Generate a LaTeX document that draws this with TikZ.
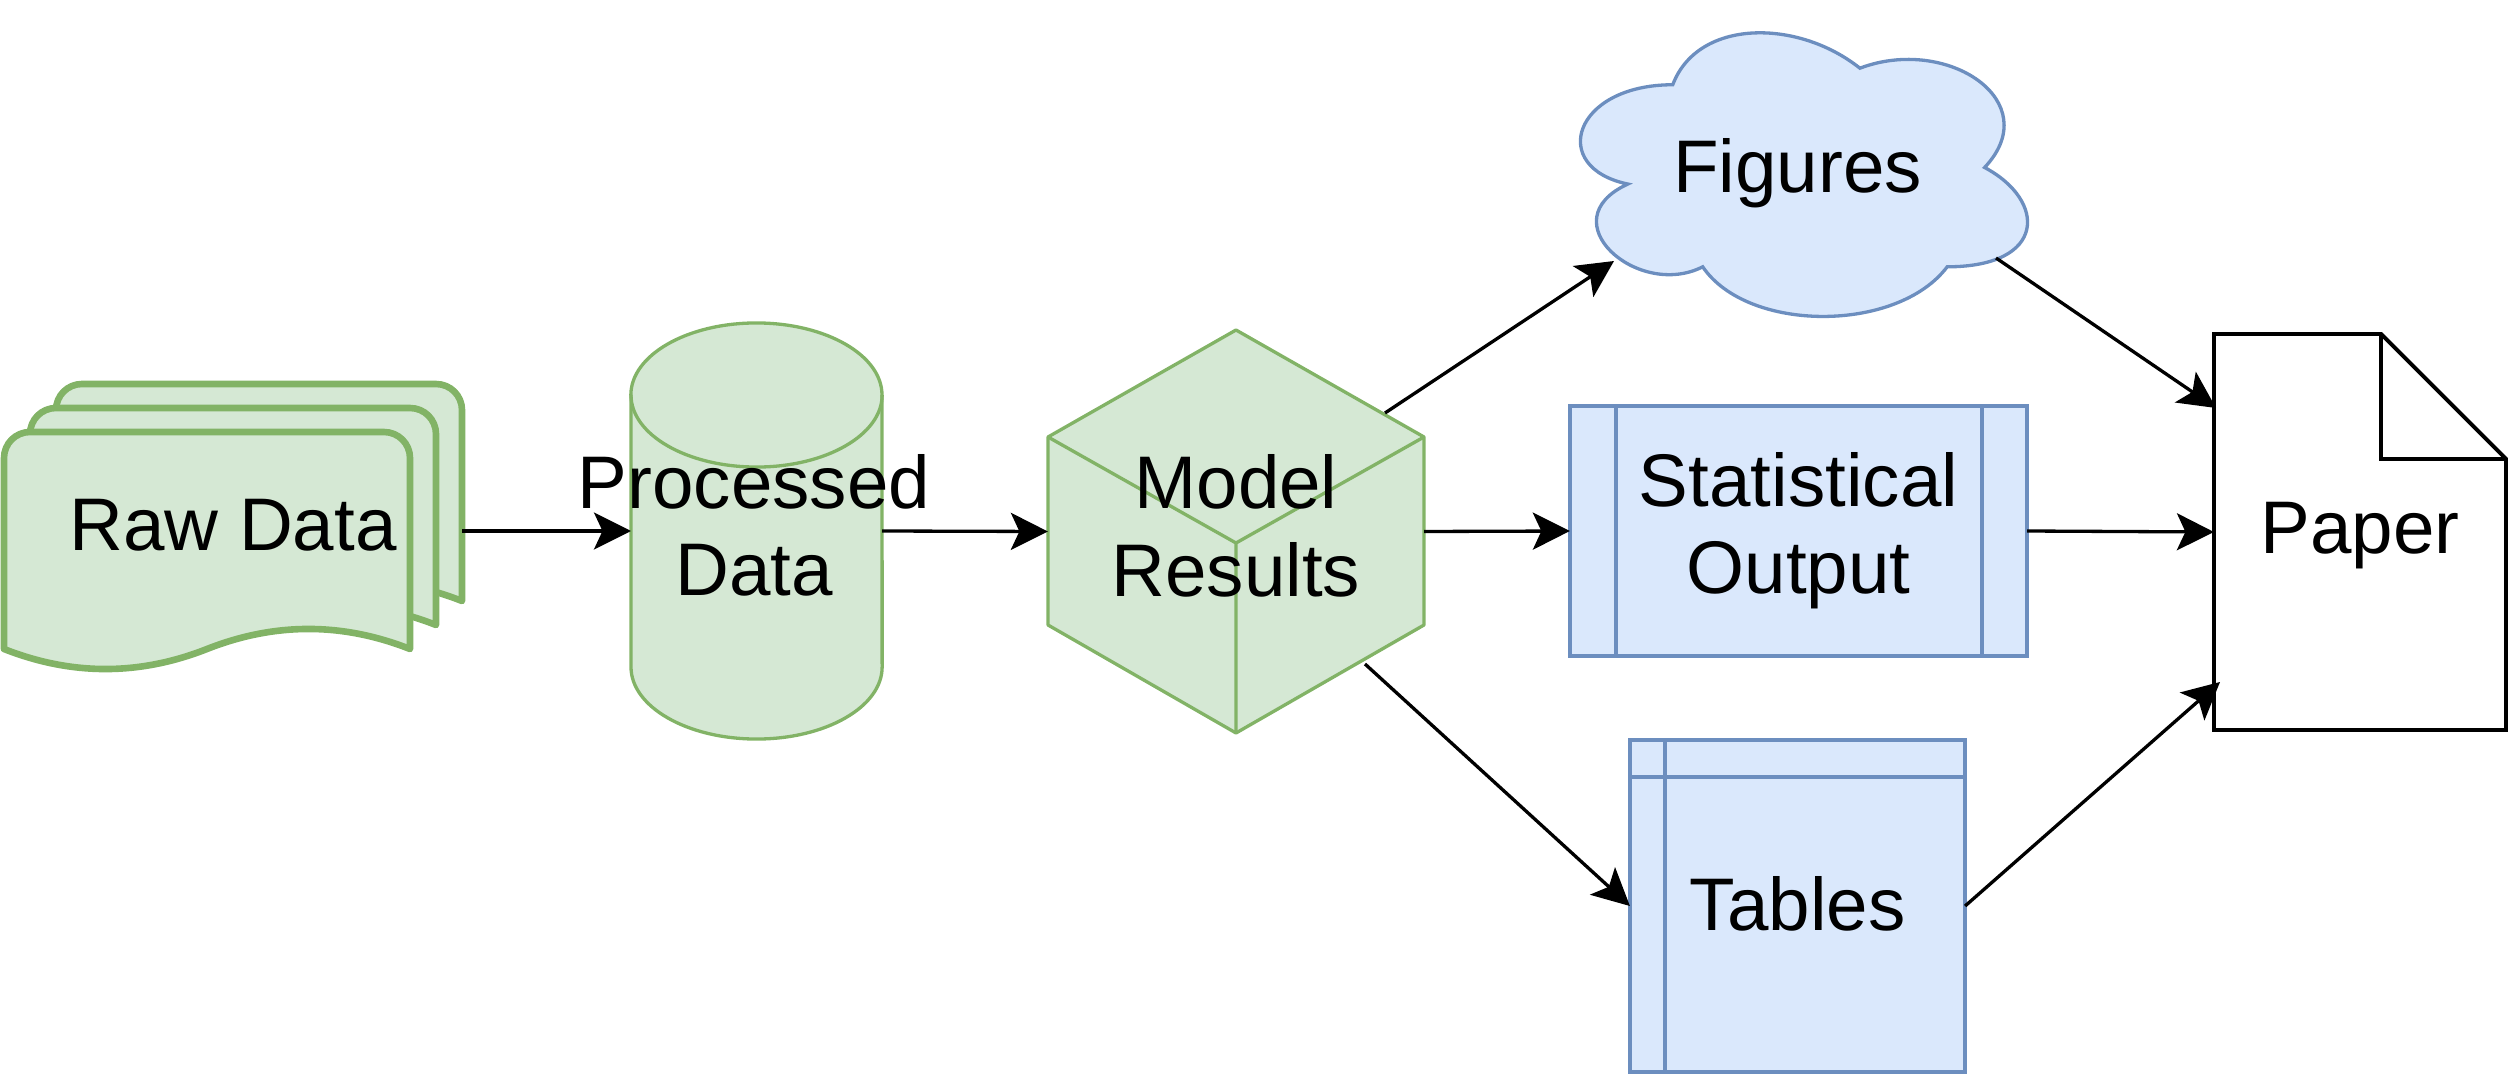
\documentclass[tikz,border=0pt]{standalone}
\usepackage{fontspec}
\setmainfont{Liberation Sans}
\usetikzlibrary{arrows.meta,calc}
\definecolor{gfill}{HTML}{D5E8D4}
\definecolor{gline}{HTML}{82B366}
\definecolor{bfill}{HTML}{DAE8FC}
\definecolor{bline}{HTML}{6C8EBF}
\begin{document}
\begin{tikzpicture}[x=0.01cm,y=-0.01cm,
  greenshape/.style={fill=gfill,draw=gline,line width=0.94pt,line join=round},
  rawsheet/.style={fill=gfill,draw=gline,line width=1.88pt,line join=round},
  blueshape/.style={fill=bfill,draw=bline,line width=0.94pt},
  papershape/.style={fill=white,draw=black,line width=1.1pt},
  conn/.style={draw=black,line width=0.94pt,-{Stealth[length=0.37cm,width=0.37cm,inset=0.085cm]}},
  box/.style={inner sep=0pt,outer sep=0pt,font=\fontsize{21.2pt}{24.75pt}\selectfont}
]
\useasboundingbox (0,0) rectangle (2508,1079);

% Raw Data (multiple documents)
\foreach \dx/\dy in {52/-48,26/-24,0/0}{
\begin{scope}[shift={(\dx,\dy)}]
\path[rawsheet] (4,649) -- (4,458) arc[start angle=180,end angle=90,radius=0.26cm] -- (384,432) arc[start angle=90,end angle=0,radius=0.26cm] -- (410,649) .. controls (342.3,622.3) and (274.7,622.3) .. (207,649) .. controls (139.3,675.7) and (71.7,675.7) .. (4,649) -- cycle;
\end{scope}}

% Processed Data (cylinder)
\path[greenshape] (631,395) -- (631,667) arc[start angle=180,end angle=360,x radius=1.255cm,y radius=0.72cm] -- (882,395) arc[start angle=0,end angle=180,x radius=1.255cm,y radius=0.72cm] -- cycle;
\draw[gline,line width=0.94pt] (631,395) arc[start angle=180,end angle=360,x radius=1.255cm,y radius=0.72cm];

% Model Results (cube)
\path[greenshape] (1236,330) -- (1424,437) -- (1424,625) -- (1236,733) -- (1048,625) -- (1048,437) -- cycle;
\draw[gline,line width=0.94pt,line join=round] (1048,437) -- (1236,543) -- (1424,437) (1236,543) -- (1236,733);

% Figures (cloud)
\path[blueshape] (1672.75,84.75) .. controls (1572.95,84.75) and (1548,167.5) .. (1627.84,184.05)
  .. controls (1548,220.46) and (1637.82,299.9) .. (1702.69,266.8)
  .. controls (1747.6,333) and (1897.3,333) .. (1947.2,266.8)
  .. controls (2047,266.8) and (2047,200.6) .. (1984.6,167.5)
  .. controls (2047,101.3) and (1947.2,35.1) .. (1859.9,68.2)
  .. controls (1797.5,18.55) and (1697.7,18.55) .. (1672.75,84.75) -- cycle;

% Statistical Output (process)
\path[blueshape] (1570,406) rectangle (2027,656);
\draw[bline,line width=0.94pt] (1616,406) -- (1616,656) (1982,406) -- (1982,656);

% Tables (internal storage)
\path[blueshape] (1630,740) rectangle (1965,1072);
\draw[bline,line width=0.94pt] (1665,740) -- (1665,1072) (1630,777) -- (1965,777);

% Paper (note)
\path[papershape] (2214,334) -- (2381,334) -- (2506,459) -- (2506,730) -- (2214,730) -- cycle;
\draw[black,line width=1.1pt] (2381,334) -- (2381,459) -- (2506,459);

% Nodes with labels
\node[box,minimum width=4.58cm,minimum height=2.85cm,text height=0.54cm,text depth=0.16cm] (raw) at (233,531) {Raw Data};
\node[box,align=center,minimum width=2.51cm,minimum height=4.16cm] (proc) at (754,531) {Processed\\Data\rule[-0.12cm]{0pt}{0.12cm}};
\node[box,align=center,minimum width=3.76cm,minimum height=4.03cm] (model) at (1236,531.5) {Model\\Results\rule[-0.12cm]{0pt}{0.12cm}};
\node[box,minimum width=4.99cm,minimum height=3.31cm,text height=0.65cm,text depth=0.16cm] (fig) at (1797.5,167.5) {Figures};
\node[box,align=center,minimum width=4.57cm,minimum height=2.5cm] (stat) at (1798.5,531) {Statistical\\Output};
\node[box,minimum width=3.35cm,minimum height=3.32cm,text height=0.64cm,text depth=0.16cm] (tab) at (1797.5,906) {Tables};
\node[box,minimum width=2.92cm,minimum height=3.96cm,text height=0.58cm,text depth=0.16cm] (paper) at (2360,532) {Paper};

% Connectors
\draw[conn] (raw.east) -- ($(proc)+(-123,0)$);
\draw[conn] ($(proc)+(128,0)$) -- (model.west);
\draw[conn] (model.east) -- (stat.west);
\draw[conn] ($(model)+(149,-118.5)$) -- ($(fig)+(-183.5,93.5)$);
\draw[conn] ($(model)+(129,132.5)$) -- (tab.west);
\draw[conn] ($(fig)+(198.5,90.5)$) -- ($(paper)+(-144,-124)$);
\draw[conn] (stat.east) -- (paper.west);
\draw[conn] (tab.east) -- ($(paper)+(-140,150)$);
\end{tikzpicture}
\end{document}
